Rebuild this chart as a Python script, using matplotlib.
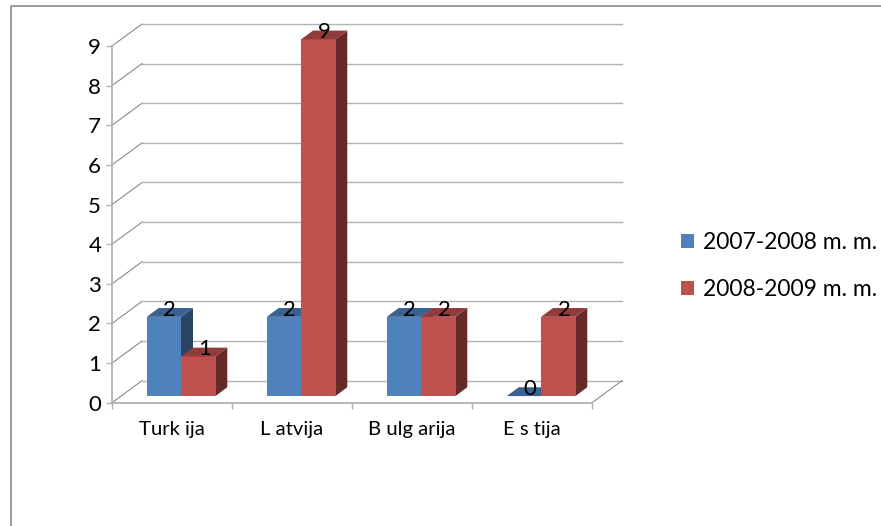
import matplotlib
matplotlib.use('Agg')
import matplotlib.pyplot as plt
from matplotlib.lines import Line2D
from matplotlib.patches import Patch, Polygon

categories = ['Turk ija', 'L atvija', 'B ulg arija', 'E s tija']
series_names = ['2007-2008 m. m.', '2008-2009 m. m.']
values_2007 = [2, 2, 2, 0]
values_2008 = [1, 9, 2, 2]
y_ticks = [0, 1, 2, 3, 4, 5, 6, 7, 8, 9]

W, H = 881, 526
plt.rcParams['font.family'] = ['Lato', 'DejaVu Sans']

# depth of the fake 3d box, in data units
DX = 0.25
DY = 0.556
BAR_W = 1 / 3.5
GRID = '#b2b2b2'
EDGE = '#8a8a8a'


def proj(x, y, d):
    return (x + d * DX, y + d * DY)


def draw_bar(ax, x0, x1, v, front, side, top):
    d0, d1 = 0.3, 0.7
    if v > 0:
        ax.add_patch(Polygon([proj(x0, 0, d0), proj(x1, 0, d0), proj(x1, v, d0), proj(x0, v, d0)],
                             fc=front, ec='none', zorder=3, clip_on=False))
        ax.add_patch(Polygon([proj(x1, 0, d0), proj(x1, 0, d1), proj(x1, v, d1), proj(x1, v, d0)],
                             fc=side, ec='none', zorder=3, clip_on=False))
    ax.add_patch(Polygon([proj(x0, v, d0), proj(x1, v, d0), proj(x1, v, d1), proj(x0, v, d1)],
                         fc=top, ec='none', zorder=3, clip_on=False))


fig = plt.figure(figsize=(W / 100, H / 100), dpi=100)
ax = fig.add_axes([112 / W, (H - 402.7) / H, 480 / W, 356.7 / H])
ax.set_xlim(0, 4)
ax.set_ylim(0, 9)

for s in ['top', 'right']:
    ax.spines[s].set_visible(False)
for s in ['left', 'bottom']:
    ax.spines[s].set_color(GRID)
    ax.spines[s].set_linewidth(1.3)

ax.set_yticks(y_ticks)
ax.set_xticks(range(5))
ax.set_xticklabels([])
ax.set_xticks([i + 0.5 for i in range(4)], categories, minor=True)
ax.tick_params(axis='both', which='major', color=GRID, length=4.3, width=1, labelsize=16, pad=3.5)
ax.tick_params(axis='x', which='minor', length=0, labelsize=14.6, pad=13)

# back wall grid and floor
for t in y_ticks:
    p0 = proj(0, t, 0)
    p1 = proj(0, t, 1)
    p2 = proj(4, t, 1)
    ax.plot([p0[0], p1[0]], [p0[1], p1[1]], color=EDGE, lw=0.8, clip_on=False, zorder=1)
    ax.plot([p1[0], p2[0]], [p1[1], p2[1]], color=GRID, lw=1.0, clip_on=False, zorder=1)
p0 = proj(4, 0, 0)
p1 = proj(4, 0, 1)
ax.plot([p0[0], p1[0]], [p0[1], p1[1]], color=EDGE, lw=0.8, clip_on=False, zorder=1)

for i in range(4):
    c = i + 0.5
    draw_bar(ax, c - BAR_W, c, values_2007[i], '#4f81bd', '#2a4466', '#3a6290')
    draw_bar(ax, c, c + BAR_W, values_2008[i], '#c0504d', '#652a28', '#8f3d3a')

for i in range(4):
    c = i + 0.5
    for x, v in [(c - BAR_W / 2, values_2007[i]), (c + BAR_W / 2, values_2008[i])]:
        ax.annotate(str(v), xy=proj(x, v, 0.5), xytext=(0, 2), textcoords='offset points',
                    ha='center', va='center', fontsize=16, color='black', zorder=5,
                    annotation_clip=False)

handles = [Patch(fc='#4f81bd', ec='none'), Patch(fc='#c0504d', ec='none')]
fig.legend(handles, series_names, loc='center left', bbox_to_anchor=(681 / W, (H - 266) / H),
           frameon=False, fontsize=16.5, handlelength=0.57, handleheight=0.57,
           handletextpad=0.39, labelspacing=1.16, borderpad=0, borderaxespad=0)

# outer chart border, only left and top show
fig.add_artist(Line2D([10.5 / W, 10.5 / W, 1], [0, (H - 5.5) / H, (H - 5.5) / H],
                      color='#8c8c8c', lw=1.2))

fig.savefig('out.png', dpi=100)
